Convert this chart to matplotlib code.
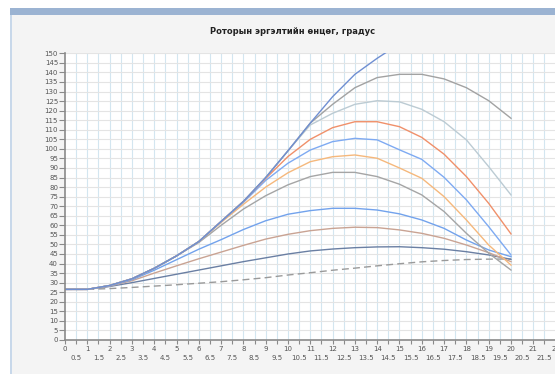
import numpy as np
import matplotlib
matplotlib.use('Agg')
import matplotlib.pyplot as plt
from matplotlib.patches import Rectangle

# Дані: x = 0..20, по кривій на кожен режим
x = list(range(21))
nan = np.nan

steel = [26.5, 26.5, 28.5, 32.0, 37.5, 44.0, 51.5, 62.0, 72.5, 85.0, 99.0, 113.5,
         127.3, 139.0, 147.4, 155.0, nan, nan, nan, nan, nan]
gray_top = [26.5, 26.5, 28.5, 32.0, 37.5, 44.0, 51.5, 62.0, 72.5, 85.0, 99.0, 113.5,
            123.3, 132.0, 137.3, 139.0, 139.0, 136.6, 132.0, 125.2, 116.0]
silver = [26.5, 26.5, 28.5, 32.0, 37.5, 44.0, 51.5, 62.0, 72.5, 85.0, 99.0, 112.5,
          118.6, 123.3, 125.2, 124.6, 120.7, 114.2, 104.7, 90.7, 75.9]
orange_red = [26.5, 26.5, 28.5, 32.0, 37.5, 44.0, 51.5, 62.0, 72.5, 84.5, 96.0, 105.0,
              111.1, 114.2, 114.2, 111.6, 106.0, 97.2, 85.5, 71.5, 55.5]
blue = [26.5, 26.5, 28.5, 32.0, 37.5, 44.0, 51.5, 62.0, 72.0, 83.5, 92.5, 99.4,
        103.8, 105.5, 104.7, 99.5, 94.5, 85.1, 73.3, 59.3, 44.5]
sandy = [26.5, 26.5, 28.5, 32.0, 37.5, 44.0, 51.5, 61.5, 71.0, 80.0, 87.5, 93.3,
         95.9, 96.8, 95.1, 90.0, 84.6, 75.0, 62.8, 49.7, 39.2]
dark_gray = [26.5, 26.5, 28.5, 32.0, 37.5, 44.0, 51.0, 60.0, 68.5, 75.5, 81.2, 85.5,
             87.7, 87.7, 85.5, 81.5, 75.9, 67.2, 55.8, 45.4, 36.6]
cornflower = [26.5, 26.5, 28.3, 31.5, 36.5, 42.0, 47.5, 52.5, 57.8, 62.4, 65.8, 67.7,
              68.9, 68.9, 68.0, 66.0, 62.8, 58.4, 52.3, 47.1, 43.6]
rosy = [26.5, 26.5, 28.2, 31.0, 35.0, 38.8, 42.5, 46.0, 49.5, 52.8, 55.3, 57.2,
        58.4, 59.0, 58.8, 57.6, 55.8, 53.2, 49.7, 45.7, 41.0]
slate = [26.5, 26.5, 28.0, 30.0, 32.2, 34.4, 36.6, 38.8, 41.0, 43.0, 45.0, 46.6,
         47.6, 48.3, 48.7, 48.8, 48.3, 47.5, 46.2, 44.5, 42.2]
dashed = [26.5, 26.5, 26.9, 27.5, 28.2, 28.9, 29.7, 30.5, 31.5, 32.6, 34.0, 35.2,
          36.5, 37.6, 38.8, 39.9, 40.9, 41.6, 42.1, 42.3, 42.4]

title = 'Роторын эргэлтийн өнцөг, градус'

series = [
    (dashed, '#9a9a9a'),
    (slate, '#6a7fa3'),
    (rosy, '#c9a393'),
    (cornflower, '#72a2ec'),
    (dark_gray, '#a5a5a5'),
    (sandy, '#f5b87c'),
    (blue, '#7eaaf2'),
    (orange_red, '#f0906a'),
    (silver, '#bccbd3'),
    (gray_top, '#a2a2a2'),
    (steel, '#6f8fd2'),
]

W, H = 555, 374
fig = plt.figure(figsize=(W / 100, H / 100), dpi=100)
fig.patch.set_facecolor('white')

# Панель і рамка
fig.add_artist(Rectangle((10 / W, 0), 1, (H - 8) / H, transform=fig.transFigure,
                         facecolor='#f4f4f4', edgecolor='none', zorder=-10))
fig.add_artist(Rectangle((10 / W, (H - 15) / H), 1, 7 / H, transform=fig.transFigure,
                         facecolor='#9bb3d2', edgecolor='none', zorder=-9))
fig.add_artist(Rectangle((10 / W, 0), 2 / W, (H - 15) / H, transform=fig.transFigure,
                         facecolor='#c8d8ea', edgecolor='none', zorder=-9))

px_unit = 22.3
ax = fig.add_axes([65 / W, 34 / H, 22.5 * px_unit / W, (340 - 53.3) / H])
ax.set_facecolor('white')
ax.set_xlim(0, 22.5)
ax.set_ylim(0, 150)

for vals, col in series:
    if vals is dashed:
        ax.plot(x, vals, color=col, lw=1.0, dashes=(5, 3), zorder=3)
    else:
        ax.plot(x, vals, color=col, lw=1.0, zorder=3)

# Сітка
for xv in np.arange(0.5, 22.5, 0.5):
    ax.axvline(xv, color='#d3e6f0', lw=0.8, zorder=1)
for yv in range(5, 151, 5):
    ax.axhline(yv, color='#e4e4e4', lw=0.8, zorder=1)

for s in ['top', 'right']:
    ax.spines[s].set_visible(False)
for s in ['left', 'bottom']:
    ax.spines[s].set_color('#8a8a8a')
    ax.spines[s].set_linewidth(1.2)
    ax.spines[s].set_zorder(4)

ax.set_yticks(range(0, 151, 5))
ax.set_xticks(range(0, 23))
ax.set_xticks(np.arange(0.5, 22, 1.0), minor=True)
ax.set_xticklabels([str(i) for i in range(0, 23)])
ax.set_xticklabels([f'{v:g}' for v in np.arange(0.5, 22, 1.0)], minor=True)

ax.tick_params(axis='y', which='major', length=4, width=0.8, color='#8a8a8a',
               labelsize=5, labelcolor='#555555', pad=1)
ax.tick_params(axis='x', which='major', length=3, width=0.8, color='#8a8a8a',
               labelsize=5, labelcolor='#555555', pad=1.5)
ax.tick_params(axis='x', which='minor', length=3, width=0.8, color='#8a8a8a',
               labelsize=5, labelcolor='#555555', pad=8)

fig.text(293 / W, (H - 32) / H, title, ha='center', va='center',
         fontsize=6, fontweight='bold', color='#222222')

fig.savefig('out.png', dpi=100)
